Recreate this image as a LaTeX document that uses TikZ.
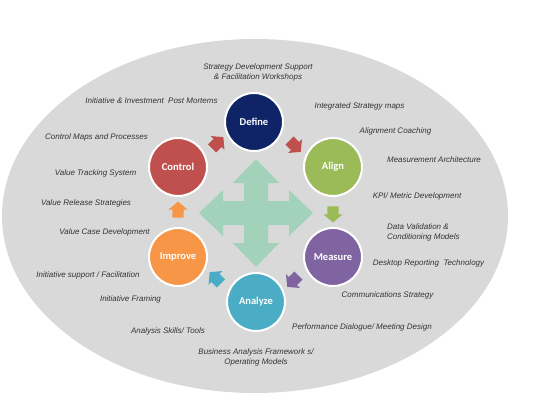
\documentclass[tikz,border=0pt]{standalone}
\usepackage{fontspec}
\setmainfont{Liberation Sans}
\newfontfamily\calibrifont{Carlito}
\usetikzlibrary{shapes.arrows,calc}
\definecolor{ellfill}{HTML}{D9D9D9}
\definecolor{txtgray}{HTML}{333333}
\definecolor{cDefine}{HTML}{0E2466}
\definecolor{cAlign}{HTML}{9BBB59}
\definecolor{cMeasure}{HTML}{8064A2}
\definecolor{cAnalyze}{HTML}{4BACC6}
\definecolor{cImprove}{HTML}{F79646}
\definecolor{cControl}{HTML}{C0504D}
\definecolor{cHub}{HTML}{A3D2BA}
\tikzset{
  phase/.style={circle, minimum size=58pt, inner sep=0pt, draw=white, line width=2pt,
    text=white, font=\calibrifont\bfseries\fontsize{10.5}{12}\selectfont},
  item/.style={inner sep=0pt, text=txtgray, font=\itshape\fontsize{8}{9.5}\selectfont},
  sarrow/.style={single arrow, minimum height=16pt,
    inner xsep=0pt, inner ysep=5.5pt, text height=0pt, text depth=0pt,
    single arrow head extend=4pt, single arrow tip angle=100, draw=none, fill=#1}
}
\begin{document}
\begin{tikzpicture}[x=1pt,y=-1pt]
\useasboundingbox (0,0) rectangle (538,404);
% background ellipse
\fill[ellfill] (255,216) ellipse [x radius=253, y radius=177];
% central four-way arrow
\coordinate (hub) at (256,213);
\fill[cHub, shift={(hub)}]
  (0,-54) -- (23,-30) -- (12,-30) -- (12,-12) -- (33,-12) -- (33,-23) -- (57,0)
  -- (33,23) -- (33,12) -- (12,12) -- (12,30) -- (23,30) -- (0,54)
  -- (-23,30) -- (-12,30) -- (-12,12) -- (-33,12) -- (-33,23) -- (-57,0)
  -- (-33,-23) -- (-33,-12) -- (-12,-12) -- (-12,-30) -- (-23,-30) -- cycle;
% phase circles
\node[phase, fill=cDefine]  (define)  at (254,122) {Define};
\node[phase, fill=cAlign]   (align)   at (333,167) {Align};
\node[phase, fill=cMeasure] (measure) at (333,257) {Measure};
\node[phase, fill=cAnalyze] (analyze) at (256,302) {Analyze};
\node[phase, fill=cImprove] (improve) at (178,257) {Improve};
\node[phase, fill=cControl] (control) at (178,167) {Control};
% connecting block arrows
\node[sarrow=cControl, rotate=45]   (a1) at ($(control)!0.5!(define)$) {};
\node[sarrow=cControl, rotate=-45]  (a2) at ($(define)!0.5!(align)$) {};
\node[sarrow=cAlign, rotate=-90]    (a3) at ($(align)!0.5!(measure)$) {};
\node[sarrow=cMeasure, rotate=-135] (a4) at ($(measure)!0.5!(analyze)$) {};
\node[sarrow=cAnalyze, rotate=135]  (a5) at ($(analyze)!0.5!(improve)$) {};
\node[sarrow=cImprove, rotate=90]   (a6) at ($(improve)!0.5!(control)$) {};
% items
\node[item, align=center] (t1) at (258,72.5) {Strategy Development Support\\\& Facilitation Workshops};
\node[item] (t2) at (151.5,101) {Initiative \& Investment\ \ Post Mortems};
\node[item] (t3) at (359.5,106) {Integrated Strategy maps};
\node[item] (t4) at (395.5,131) {Alignment Coaching};
\node[item] (t5) at (434,160) {Measurement Architecture};
\node[item] (t6) at (417,196) {KPI/ Metric Development};
\node[item] (t7) at (96.5,137) {Control Maps and Processes};
\node[item] (t8) at (95.5,173) {Value Tracking System};
\node[item] (t9) at (86,203) {Value Release Strategies};
\node[item] (t10) at (104.5,232) {Value Case Development};
\node[item] (t11) at (88,275) {Initiative support / Facilitation};
\node[item] (t12) at (130.5,299) {Initiative Framing};
\node[item] (t13) at (168,331) {Analysis Skills/ Tools};
\node[item, align=center] (t14) at (256,357.5) {Business Analysis Framework s/\\Operating Models};
\node[item, align=left, anchor=west] (t15) at (387,232.5) {Data Validation \&\\Conditioning Models};
\node[item] (t16) at (428.5,263) {Desktop Reporting\ \ Technology};
\node[item] (t17) at (387.5,295) {Communications Strategy};
\node[item] (t18) at (362,327) {Performance Dialogue/ Meeting Design};
\end{tikzpicture}
\end{document}
